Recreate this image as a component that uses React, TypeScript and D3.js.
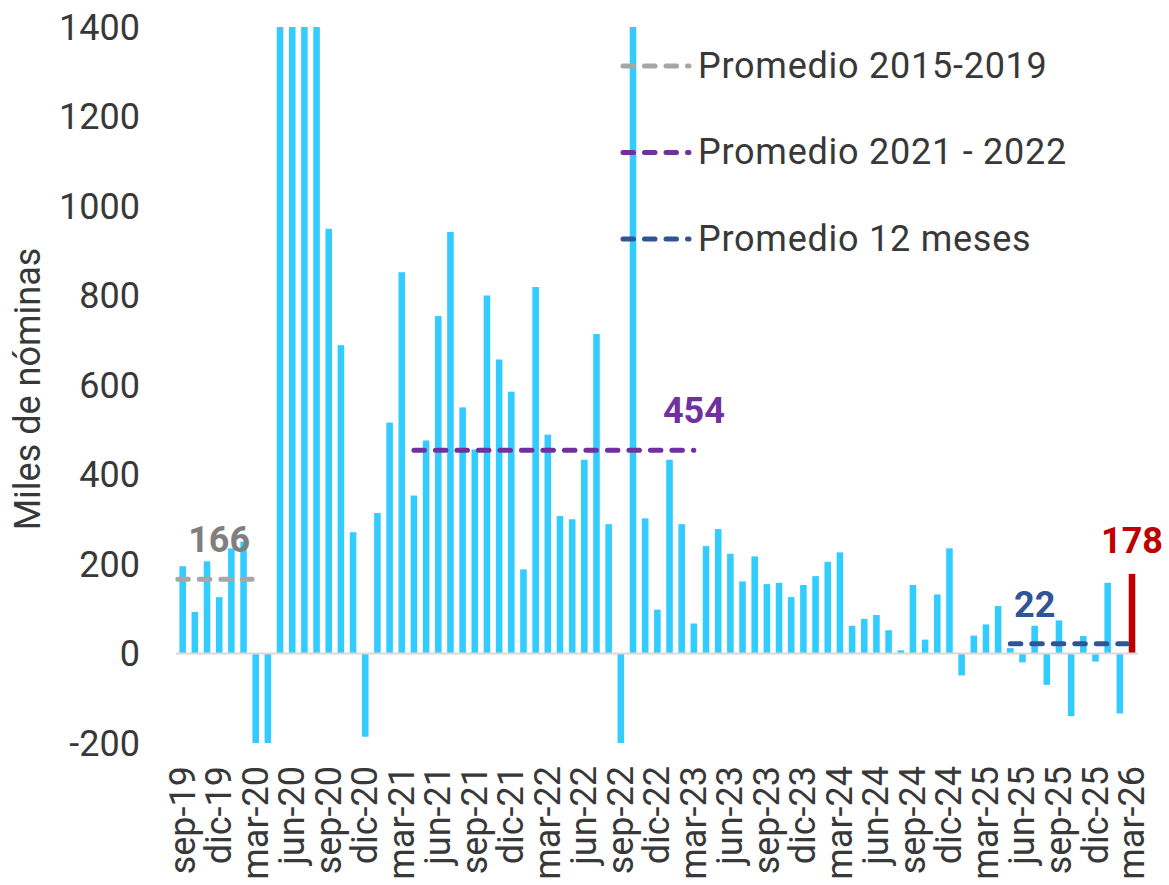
import React from "react";
import * as d3 from "d3";

// monthly change in payrolls, thousands (bars beyond the axis are shown cut at the axis limits)
const months = [
  "sep-19", "oct-19", "nov-19", "dic-19", "ene-20", "feb-20", "mar-20", "abr-20", "may-20", "jun-20",
  "jul-20", "ago-20", "sep-20", "oct-20", "nov-20", "dic-20", "ene-21", "feb-21", "mar-21", "abr-21",
  "may-21", "jun-21", "jul-21", "ago-21", "sep-21", "oct-21", "nov-21", "dic-21", "ene-22", "feb-22",
  "mar-22", "abr-22", "may-22", "jun-22", "jul-22", "ago-22", "sep-22", "oct-22", "nov-22", "dic-22",
  "ene-23", "feb-23", "mar-23", "abr-23", "may-23", "jun-23", "jul-23", "ago-23", "sep-23", "oct-23",
  "nov-23", "dic-23", "ene-24", "feb-24", "mar-24", "abr-24", "may-24", "jun-24", "jul-24", "ago-24",
  "sep-24", "oct-24", "nov-24", "dic-24", "ene-25", "feb-25", "mar-25", "abr-25", "may-25", "jun-25",
  "jul-25", "ago-25", "sep-25", "oct-25", "nov-25", "dic-25", "ene-26", "feb-26", "mar-26",
];

const values = [
  195, 93, 206, 126, 235, 250, -200, -200, 1400, 1400,
  1400, 1400, 949, 689, 271, -186, 314, 516, 852, 353,
  476, 754, 942, 550, 456, 800, 657, 585, 188, 819,
  489, 307, 300, 433, 714, 289, -200, 1400, 302, 98,
  433, 289, 67, 240, 278, 223, 161, 217, 155, 158,
  126, 153, 173, 205, 226, 62, 77, 86, 52, 7,
  153, 31, 132, 235, -49, 40, 65, 106, 12, -20,
  62, -70, 74, -140, 39, -18, 158, -134, 178,
];

const tickLabels = [
  "sep-19", "dic-19", "mar-20", "jun-20", "sep-20", "dic-20", "mar-21", "jun-21", "sep-21", "dic-21",
  "mar-22", "jun-22", "sep-22", "dic-22", "mar-23", "jun-23", "sep-23", "dic-23", "mar-24", "jun-24",
  "sep-24", "dic-24", "mar-25", "jun-25", "sep-25", "dic-25", "mar-26",
];

const yTicks = [-200, 0, 200, 400, 600, 800, 1000, 1200, 1400];

const avgNames = ["Promedio 2015-2019", "Promedio 2021 - 2022", "Promedio 12 meses"];
const avgValues = [166, 454, 22];
const avgFrom = ["sep-19", "abr-21", "may-25"];
const avgTo = ["feb-20", "mar-23", "mar-26"];
const avgLabelAt = ["dic-19", "mar-23", "jul-25"];

const lastLabel = "178";

const W = 1169;
const H = 885;
const FONT = "Roboto, 'Noto Sans', sans-serif";
const BAR = "#33CCFF";
const RED = "#C00000";
const TEXT = "#383838";
const lineColors = ["#A6A6A6", "#7030A0", "#2F5597"];
const labelColors = ["#7F7F7F", "#7030A0", "#2F5597"];
// small visual extensions (in month steps) of the average lines
const extStart = [-0.4, 0, 0];
const extEnd = [0.7, 0, -0.4];

export default function App() {
  const x = d3
    .scaleBand<string>()
    .domain(months)
    .range([176.6, 1138.1])
    .paddingInner(0.46)
    .paddingOuter(0.23);

  const y = d3.scaleLinear().domain([-200, 1400]).range([743, 27]);

  const bw = x.bandwidth();
  const step = x.step();
  const cx = (m: string) => (x(m) as number) + bw / 2;
  const last = months[months.length - 1];

  return (
    <svg
      width={W}
      height={H}
      style={{ position: "absolute", left: 0, top: 0, background: "#fff" }}
      fontFamily={FONT}
    >
      {/* y axis tick labels */}
      {yTicks.map((t) => (
        <text
          key={t}
          x={140}
          y={y(t)}
          dy="0.36em"
          textAnchor="end"
          fontSize={36}
          fill={TEXT}
        >
          {t}
        </text>
      ))}

      <text
        transform={`translate(28,${y(600) + 4}) rotate(-90)`}
        textAnchor="middle"
        dominantBaseline="central"
        fontSize={36}
        fill={TEXT}
      >
        Miles de nóminas
      </text>

      {/* bars */}
      {months.map((m, i) => {
        const v = values[i];
        return (
          <rect
            key={m}
            x={x(m)}
            y={Math.min(y(v), y(0))}
            width={bw}
            height={Math.abs(y(v) - y(0))}
            fill={m === last ? RED : BAR}
          />
        );
      })}

      {/* zero line */}
      <line x1={176} x2={1138} y1={y(0)} y2={y(0)} stroke="#D9D9D9" strokeWidth={2} />

      {/* average lines */}
      {avgNames.map((n, i) => (
        <line
          key={n}
          x1={cx(avgFrom[i]) + extStart[i] * step}
          x2={cx(avgTo[i]) + extEnd[i] * step}
          y1={y(avgValues[i])}
          y2={y(avgValues[i])}
          stroke={lineColors[i]}
          strokeWidth={5}
          strokeDasharray="10.5 11"
          strokeLinecap="round"
        />
      ))}

      {/* average value labels */}
      {avgNames.map((n, i) => (
        <text
          key={n}
          x={cx(avgLabelAt[i])}
          y={y(avgValues[i]) - 27}
          textAnchor="middle"
          fontSize={36}
          fontWeight="bold"
          fill={labelColors[i]}
        >
          {avgValues[i]}
        </text>
      ))}

      <text
        x={cx(last)}
        y={y(values[values.length - 1]) - 21}
        textAnchor="middle"
        fontSize={36}
        fontWeight="bold"
        fill={RED}
      >
        {lastLabel}
      </text>

      {/* x axis labels */}
      {tickLabels.map((t) => (
        <text
          key={t}
          transform={`translate(${cx(t)},766) rotate(-90)`}
          textAnchor="end"
          dominantBaseline="central"
          fontSize={36}
          fill={TEXT}
        >
          {t}
        </text>
      ))}

      {/* legend */}
      {avgNames.map((n, i) => {
        const ly = 66 + i * 86.5;
        return (
          <g key={n}>
            <line
              x1={623}
              x2={689}
              y1={ly}
              y2={ly}
              stroke={lineColors[i]}
              strokeWidth={5}
              strokeDasharray="10.5 11"
              strokeLinecap="round"
            />
            <text x={698} y={ly + 11.5} fontSize={36} letterSpacing={0.75} fill={TEXT}>
              {n}
            </text>
          </g>
        );
      })}
    </svg>
  );
}
